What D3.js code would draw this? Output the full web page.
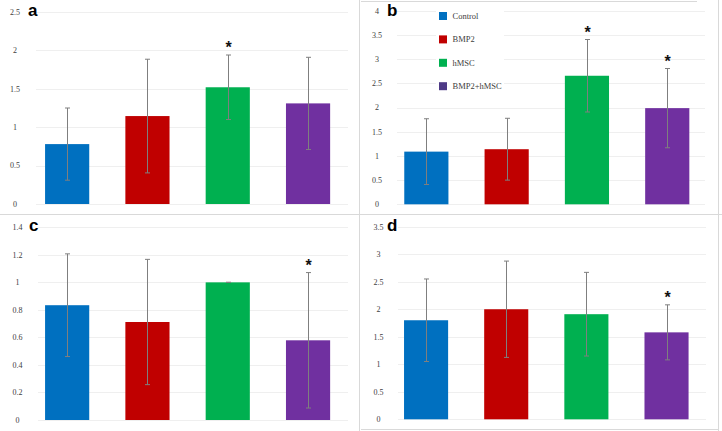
<!DOCTYPE html>
<html>
<head>
<meta charset="utf-8">
<script src="https://cdn.jsdelivr.net/npm/d3@7"></script>
<style>
  html, body { margin: 0; padding: 0; background: #fff; }
  svg { display: block; }
</style>
</head>
<body>
<svg id="chart" width="722" height="431"></svg>
<script>
// ---------------- DATA ----------------
const groups = ["Control", "BMP2", "hMSC", "BMP2+hMSC"];
const barColors = ["#0070c0", "#c00000", "#00b050", "#7030a0"];
const legendColors = ["#0070c0", "#c00000", "#00b050", "#4e3a86"];

const meanA = [0.78, 1.145, 1.52, 1.31];
const sdA   = [0.47, 0.74, 0.42, 0.60];
const starA = [false, false, true, false];
const ticksA = [0, 0.5, 1, 1.5, 2, 2.5];

const meanB = [1.09, 1.14, 2.66, 1.99];
const sdB   = [0.68, 0.64, 0.75, 0.82];
const starB = [false, false, true, true];
const ticksB = [0, 0.5, 1, 1.5, 2, 2.5, 3, 3.5, 4];

const meanC = [0.834, 0.712, 1.0, 0.579];
const sdC   = [0.373, 0.455, 0.0, 0.492];
const starC = [false, false, false, true];
const ticksC = [0, 0.2, 0.4, 0.6, 0.8, 1, 1.2, 1.4];

const meanD = [1.80, 2.00, 1.91, 1.58];
const sdD   = [0.75, 0.875, 0.76, 0.50];
const starD = [false, false, false, true];
const ticksD = [0, 0.5, 1, 1.5, 2, 2.5, 3, 3.5];

// ---------------- LAYOUT ----------------
const panels = [
  { letter: "a", mean: meanA, sd: sdA, star: starA, ticks: ticksA,
    x0: 27, x1: 348.2, y0: 204, y1: 12, g0: 36, g1: 348, labX: 15, letX: 28, letY: 16 },
  { letter: "b", mean: meanB, sd: sdB, star: starB, ticks: ticksB,
    x0: 386.2, x1: 707.4, y0: 204.3, y1: 11, g0: 397, g1: 705, labX: 377, letX: 387, letY: 16, legend: true },
  { letter: "c", mean: meanC, sd: sdC, star: starC, ticks: ticksC,
    x0: 27, x1: 348.2, y0: 420, y1: 227.3, g0: 38, g1: 348, labX: 17.5, letX: 29, letY: 231 },
  { letter: "d", mean: meanD, sd: sdD, star: starD, ticks: ticksD,
    x0: 386, x1: 706.6, y0: 419.3, y1: 226.7, g0: 398, g1: 706, labX: 378.5, letX: 387, letY: 230.7 }
];

const svg = d3.select("#chart");

// panel borders
const borderColor = "#d9d9d9";
const borders = svg.append("g").attr("class", "borders")
  .attr("stroke", borderColor).attr("stroke-width", 1).attr("fill", "none");
borders.append("line").attr("x1", 359.5).attr("x2", 359.5).attr("y1", 0).attr("y2", 431);
borders.append("line").attr("x1", 0).attr("x2", 722).attr("y1", 214.5).attr("y2", 214.5);
borders.append("line").attr("x1", 361).attr("x2", 697).attr("y1", 1.5).attr("y2", 1.5);
borders.append("line").attr("x1", 718.5).attr("x2", 718.5).attr("y1", 0).attr("y2", 431);
borders.append("line").attr("x1", 361).attr("x2", 718).attr("y1", 429.5).attr("y2", 429.5);

panels.forEach(p => {
  const g = svg.append("g").attr("class", "panel-" + p.letter);
  const y = d3.scaleLinear()
    .domain([0, d3.max(p.ticks)])
    .range([p.y0, p.y1]);
  const x = d3.scaleBand()
    .domain(groups)
    .range([p.x0, p.x1])
    .paddingInner(0.45)
    .paddingOuter(0.225);

  // gridlines
  g.append("g").selectAll("line").data(p.ticks).join("line")
    .attr("x1", p.g0).attr("x2", p.g1)
    .attr("y1", d => Math.round(y(d)) + 0.5).attr("y2", d => Math.round(y(d)) + 0.5)
    .attr("stroke", "#efefef").attr("stroke-width", 1);

  // tick labels
  g.append("g").selectAll("text").data(p.ticks).join("text")
    .attr("x", p.labX).attr("y", d => y(d))
    .attr("dy", "0.35em")
    .attr("text-anchor", "middle")
    .attr("font-family", "'Liberation Serif', 'Times New Roman', serif")
    .attr("font-size", 8)
    .attr("fill", "#404040")
    .text(d => d);

  // legend (panel b)
  if (p.legend) {
    const lg = g.append("g").attr("class", "legend");
    lg.append("rect").attr("x", 436).attr("y", 4).attr("width", 68).attr("height", 96).attr("fill", "#fff");
    const rows = lg.selectAll("g.row").data(groups).join("g").attr("class", "row")
      .attr("transform", (d, i) => `translate(439, ${16 + i * 23.4})`);
    rows.append("rect").attr("x", 0).attr("y", -4).attr("width", 8).attr("height", 8)
      .attr("fill", (d, i) => legendColors[i]);
    rows.append("text").attr("x", 13.5).attr("y", 0).attr("dy", "0.33em")
      .attr("font-family", "'Liberation Serif', 'Times New Roman', serif")
      .attr("font-size", 8.5).attr("fill", "#404040")
      .text(d => d);
  }

  // bars
  g.append("g").selectAll("rect").data(p.mean).join("rect")
    .attr("x", (d, i) => x(groups[i]))
    .attr("width", x.bandwidth())
    .attr("y", d => y(d))
    .attr("height", d => y(0) - y(d))
    .attr("fill", (d, i) => barColors[i]);

  // error bars
  const eb = g.append("g").attr("stroke", "#7f7f7f").attr("stroke-width", 1);
  p.mean.forEach((m, i) => {
    const cx = Math.round(x(groups[i]) + x.bandwidth() / 2) + 0.5;
    const hi = y(m + p.sd[i]), lo = y(m - p.sd[i]);
    eb.append("line").attr("x1", cx).attr("x2", cx).attr("y1", hi).attr("y2", lo);
    eb.append("line").attr("x1", cx - 2.5).attr("x2", cx + 2.5).attr("y1", hi).attr("y2", hi);
    eb.append("line").attr("x1", cx - 2.5).attr("x2", cx + 2.5).attr("y1", lo).attr("y2", lo);
    if (p.star[i]) {
      g.append("text")
        .attr("x", cx).attr("y", hi - 2)
        .attr("text-anchor", "middle")
        .attr("font-family", "'Liberation Sans', Arial, sans-serif")
        .attr("font-weight", "bold")
        .attr("font-size", 16)
        .attr("fill", "#111")
        .text("*");
    }
  });

  // panel letter
  g.append("text")
    .attr("x", p.letX).attr("y", p.letY)
    .attr("font-family", "'Liberation Sans', Arial, sans-serif")
    .attr("font-weight", "bold")
    .attr("font-size", 17)
    .attr("fill", "#000")
    .text(p.letter);
});
</script>
</body>
</html>
